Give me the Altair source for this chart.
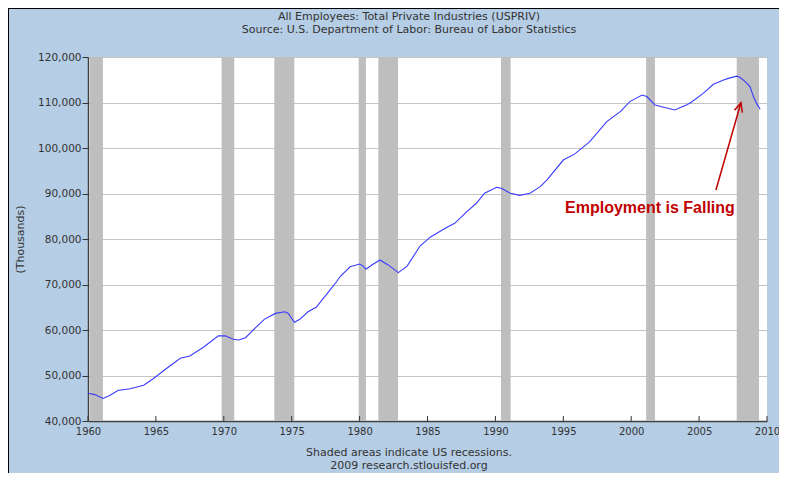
import altair as alt
import pandas as pd

# ---- data ----
years = [1960.0, 1960.5, 1961.1, 1961.6, 1962.2, 1963.1, 1964.1, 1964.8, 1965.8, 1966.8,
         1967.5, 1968.5, 1969.6, 1970.1, 1970.7, 1971.1, 1971.6, 1972.4, 1973.0, 1973.8,
         1974.5, 1974.75, 1975.2, 1975.6, 1976.2, 1976.8, 1977.8, 1978.3, 1978.55, 1979.3,
         1980.0, 1980.27, 1980.47, 1980.9, 1981.5, 1982.1, 1982.85, 1983.5, 1984.45, 1985.2,
         1986.3, 1987.0, 1987.9, 1988.6, 1989.2, 1990.1, 1990.45, 1991.1, 1991.8, 1992.55,
         1993.3, 1993.8, 1995.0, 1995.85, 1996.95, 1998.2, 1999.2, 1999.9, 2000.8, 2001.15,
         2001.75, 2002.4, 2003.2, 2004.1, 2004.4, 2005.3, 2006.05, 2006.8, 2007.15, 2007.77,
         2008.0, 2008.4, 2008.75, 2009.0, 2009.23, 2009.5]
employees = [46100, 45800, 44950, 45600, 46700, 47100, 47850, 49300, 51600, 53800,
             54300, 56200, 58700, 58750, 57950, 57800, 58300, 60700, 62400, 63650,
             64000, 63650, 61700, 62350, 64000, 65000, 68700, 70600, 71700, 73900,
             74500, 74050, 73350, 74300, 75400, 74300, 72600, 74050, 78450, 80400,
             82350, 83450, 86000, 87850, 90050, 91350, 91150, 90050, 89600, 90050,
             91500, 93000, 97350, 98700, 101400, 105800, 108000, 110200, 111650, 111300,
             109450, 108950, 108350, 109500, 110000, 112000, 114000, 114950, 115300, 115800,
             115550, 114600, 113500, 111300, 109800, 108500]

rec_start = [1960.15, 1969.84, 1973.72, 1979.93, 1981.38, 1990.41, 2001.10, 2007.77]
rec_end = [1961.10, 1970.77, 1975.19, 1980.47, 1982.83, 1991.12, 2001.75, 2009.41]

tick_years = list(range(1960, 2011, 5))
y_ticks = list(range(40000, 120001, 10000))

title_lines = ["All Employees: Total Private Industries (USPRIV)",
               "Source: U.S. Department of Labor: Bureau of Labor Statistics"]
footer_lines = ["Shaded areas indicate US recessions.", "2009 research.stlouisfed.org"]

annot_text = ["Employment is Falling"]
annot_x = [2001.38]
annot_y = [86800]
arrow_tail = (2006.24, 90770)
arrow_tip = (2008.08, 109960)

# ---- layout ----
W, H = 679, 364
BG = "#B5CDE5"
DARK = "#333333"

xs = alt.Scale(domain=[1960, 2010], nice=False, zero=False)
ys = alt.Scale(domain=[40000, 120000], nice=False, zero=False)

ax_x = alt.Axis(values=tick_years, format="d", title=None, grid=False, ticks=False,
                tickSize=0, labelFontSize=10, labelColor=DARK, labelPadding=5,
                domainColor="#404040", domainWidth=1.5, labelFlush=False,
                labelOverlap=False)
ax_y = alt.Axis(values=y_ticks, format=",.0f", title="(Thousands)", titleX=-68,
                titleY=H / 2, titleAngle=270, titleAlign="center",
                titleBaseline="middle", titleFontSize=11, titleFontWeight="normal",
                titleColor=DARK, labelFontSize=10.5, labelColor=DARK, labelPadding=1,
                tickSize=6, tickColor=DARK, domainColor="#404040", domainWidth=1.5,
                grid=True, gridColor="#C4C4C4", labelFlush=False, labelOverlap=False)

series = pd.DataFrame({"year": years, "value": employees})
rec = pd.DataFrame({"start": rec_start, "end": rec_end})
ticks = pd.DataFrame({"year": tick_years})
ann = pd.DataFrame({"x": annot_x, "y": annot_y, "label": annot_text})
arrow = pd.DataFrame({"x1": [arrow_tail[0]], "y1": [arrow_tail[1]],
                      "x2": [arrow_tip[0]], "y2": [arrow_tip[1]]})
one = pd.DataFrame({"a": [0]})

rects = alt.Chart(rec).mark_rect(color="#BEBEBE").encode(
    x=alt.X("start:Q", scale=xs, axis=ax_x),
    x2="end:Q",
    y=alt.value(0),
    y2=alt.value(H),
)

line = alt.Chart(series).mark_line(color="#3A3AFF", strokeWidth=1.1).encode(
    x=alt.X("year:Q", scale=xs, axis=ax_x),
    y=alt.Y("value:Q", scale=ys, axis=ax_y),
)

xticks = alt.Chart(ticks).mark_rule(color=DARK, strokeWidth=1).encode(
    x=alt.X("year:Q", scale=xs, axis=ax_x),
    y=alt.value(H - 5),
    y2=alt.value(H),
)

ann_text = alt.Chart(ann).mark_text(font="Liberation Sans", fontWeight="bold",
                                    fontSize=16, color="#C00000").encode(
    x=alt.X("x:Q", scale=xs, axis=ax_x),
    y=alt.Y("y:Q", scale=ys, axis=ax_y),
    text="label:N",
)

arrow_line = alt.Chart(arrow).mark_rule(color="#C00000", strokeWidth=1.5).encode(
    x=alt.X("x1:Q", scale=xs, axis=ax_x),
    x2="x2:Q",
    y=alt.Y("y1:Q", scale=ys, axis=ax_y),
    y2="y2:Q",
)

arrow_head = alt.Chart(arrow).mark_point(
    shape="M-0.45,1L0,0L0.45,1", filled=False, strokeWidth=1.5, color="#C00000",
    size=330, angle=16, opacity=1,
).encode(
    x=alt.X("x2:Q", scale=xs, axis=ax_x),
    y=alt.Y("y2:Q", scale=ys, axis=ax_y),
)


def text_layer(txt, yv, size=11):
    return alt.Chart(one).mark_text(fontSize=size, color=DARK, font="DejaVu Sans",
                                    align="center", baseline="middle").encode(
        x=alt.value(321), y=alt.value(yv), text=alt.value(txt))


title1 = text_layer(title_lines[0], -40.5)
title2 = text_layer(title_lines[1], -27)
foot1 = text_layer(footer_lines[0], 395.5)
foot2 = text_layer(footer_lines[1], 408.5)

PAD_L, PAD_T, PAD_R, PAD_B = 80, 49, 12, 52

border_left = alt.Chart(one).mark_rule(color="black", strokeWidth=2).encode(
    x=alt.value(-PAD_L), y=alt.value(-PAD_T), y2=alt.value(H + PAD_B))
border_top = alt.Chart(one).mark_rule(color="black", strokeWidth=2).encode(
    x=alt.value(-PAD_L), x2=alt.value(W + PAD_R), y=alt.value(-PAD_T))

chart = alt.layer(
    rects, xticks, line, arrow_line, arrow_head, ann_text,
    title1, title2, foot1, foot2, border_left, border_top,
).properties(
    width=W, height=H,
    padding={"left": PAD_L, "top": PAD_T, "right": PAD_R, "bottom": PAD_B},
    autosize=alt.AutoSizeParams(type="none"),
).configure(
    background=BG, font="DejaVu Sans",
).configure_view(
    fill="white", stroke=None,
)

chart.save("out.html", embed_options={"renderer": "svg", "actions": False})
